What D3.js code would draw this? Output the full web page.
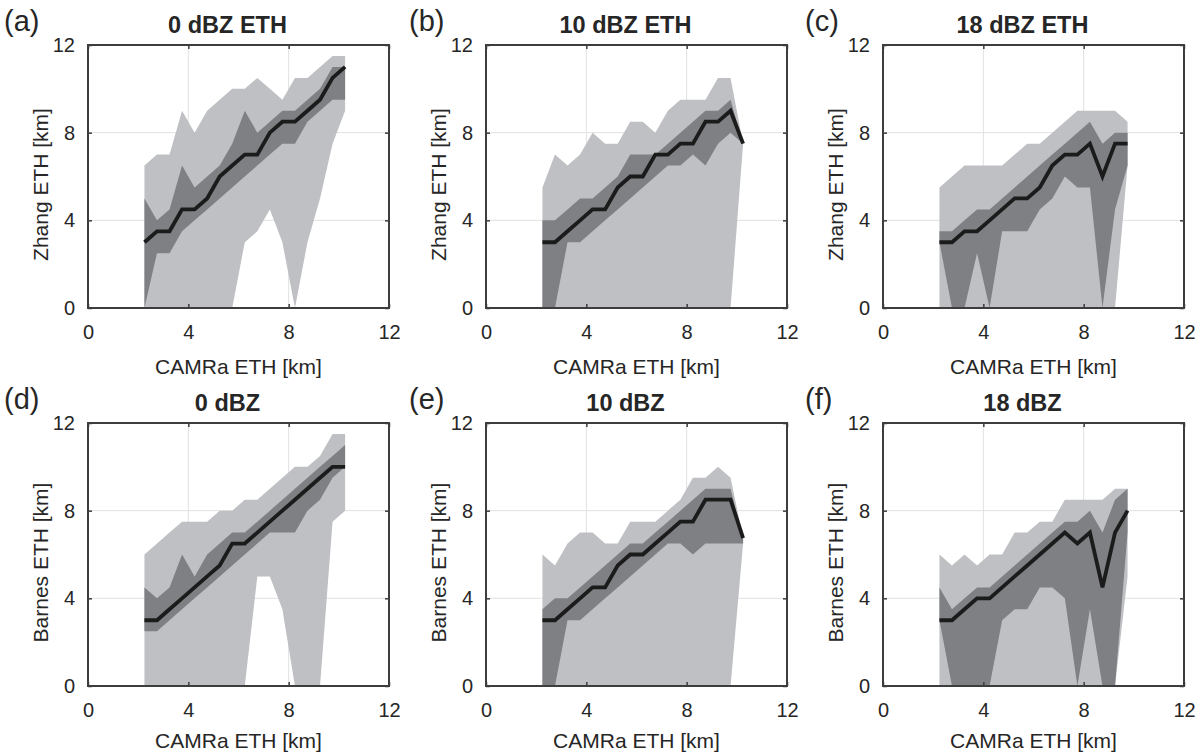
<!DOCTYPE html>
<html>
<head>
<meta charset="utf-8">
<script src="https://cdn.jsdelivr.net/npm/d3@7"></script>
<style>
  body { margin: 0; background: #fff; }
  text { font-family: "Liberation Sans", Arial, Helvetica, sans-serif; fill: #262626; }
</style>
</head>
<body>
<svg id="fig" width="1204" height="754"></svg>
<script>
// CAMRa ETH bin centres [km]
const xLong = [2.25, 2.75, 3.25, 3.75, 4.25, 4.75, 5.25, 5.75, 6.25, 6.75, 7.25, 7.75, 8.25, 8.75, 9.25, 9.75, 10.25];
const xShort = [2.25, 2.75, 3.25, 3.75, 4.25, 4.75, 5.25, 5.75, 6.25, 6.75, 7.25, 7.75, 8.25, 8.75, 9.25, 9.75];
const ticks = [0, 4, 8, 12];

// (a) Zhang, 0 dBZ
const aMed = [3, 3.5, 3.5, 4.5, 4.5, 5, 6, 6.5, 7, 7, 8, 8.5, 8.5, 9, 9.5, 10.5, 11];
const aQ75 = [5, 4, 4.5, 6.5, 5.5, 6, 6.5, 7.5, 9, 8, 8.5, 9, 9, 9.5, 10, 11, 11];
const aQ25 = [0, 2.5, 2.5, 3.5, 4, 4.5, 5, 5.5, 6, 6.5, 7, 7.5, 7.5, 8.5, 9, 9.5, 9.5];
const aMax = [6.5, 7, 7, 9, 8, 9, 9.5, 10, 10, 10.5, 10, 9.5, 10.5, 10.5, 11, 11.5, 11.5];
const aMin = [0, 0, 0, 0, 0, 0, 0, 0, 3, 3.5, 4.5, 3, 0, 3, 5, 7.5, 9];

// (b) Zhang, 10 dBZ
const bMed = [3, 3, 3.5, 4, 4.5, 4.5, 5.5, 6, 6, 7, 7, 7.5, 7.5, 8.5, 8.5, 9, 7.5];
const bQ75 = [4, 4, 4.5, 5, 5, 5.5, 6, 7, 7, 7, 7.5, 8, 8.5, 9, 9, 9.5, 7.5];
const bQ25 = [0, 0, 3, 3, 3.5, 4, 4.5, 5, 5.5, 6, 6.5, 6.5, 7, 6.5, 7.5, 8, 7.5];
const bMax = [5.5, 7, 6.5, 7, 8, 7.5, 7.5, 8.5, 8.5, 8, 9, 9.5, 9.5, 9.5, 10.5, 10.5, 7.5];
const bMin = [0, 0, 0, 0, 0, 0, 0, 0, 0, 0, 0, 0, 0, 0, 0, 0, 7.5];

// (c) Zhang, 18 dBZ
const cMed = [3, 3, 3.5, 3.5, 4, 4.5, 5, 5, 5.5, 6.5, 7, 7, 7.5, 6, 7.5, 7.5];
const cQ75 = [3.5, 3.5, 4, 4.5, 4.5, 5, 5.5, 6, 6.5, 7, 7.5, 8, 8.5, 7.5, 8, 8];
const cQ25 = [3, 0, 0, 2.5, 0, 3.5, 3.5, 3.5, 4.5, 5, 6, 5.5, 5.5, 0, 4.5, 6.5];
const cMax = [5.5, 6, 6.5, 6.5, 6.5, 6.5, 7, 7.5, 7.5, 8, 8.5, 9, 9, 9, 9, 8.5];
const cMin = [0, 0, 0, 0, 0, 0, 0, 0, 0, 0, 0, 0, 0, 0, 0, 6.5];

// (d) Barnes, 0 dBZ
const dMed = [3, 3, 3.5, 4, 4.5, 5, 5.5, 6.5, 6.5, 7, 7.5, 8, 8.5, 9, 9.5, 10, 10];
const dQ75 = [4.5, 4, 4.5, 6, 5, 6, 6.5, 7, 7, 7.5, 8, 8.5, 9, 9.5, 10, 10.5, 11];
const dQ25 = [2.5, 2.5, 3, 3.5, 4, 4.5, 5, 5.5, 6, 6.5, 7, 7, 7, 8, 8.5, 9.5, 10];
const dMax = [6, 6.5, 7, 7.5, 7.5, 7.5, 8, 8, 8.5, 8.5, 9, 9.5, 10, 10, 10.5, 11.5, 11.5];
const dMin = [0, 0, 0, 0, 0, 0, 0, 0, 0, 5, 5, 3.5, 0, 0, 0, 7.5, 8];

// (e) Barnes, 10 dBZ
const eMed = [3, 3, 3.5, 4, 4.5, 4.5, 5.5, 6, 6, 6.5, 7, 7.5, 7.5, 8.5, 8.5, 8.5, 6.75];
const eQ75 = [3.5, 4, 4, 4.5, 5, 5.5, 6, 6.5, 6.5, 7, 7.5, 8, 8.5, 9, 9, 9, 6.75];
const eQ25 = [0, 0, 3, 3, 3.5, 4, 4.5, 5, 5.5, 6, 6.5, 6.5, 6, 6.5, 6.5, 6.5, 6.5];
const eMax = [6, 5.5, 6.5, 7, 7, 6.5, 6.5, 7.5, 7.5, 7.5, 8, 8.5, 9.5, 9.5, 10, 9.5, 6.75];
const eMin = [0, 0, 0, 0, 0, 0, 0, 0, 0, 0, 0, 0, 0, 0, 0, 0, 6.5];

// (f) Barnes, 18 dBZ
const fMed = [3, 3, 3.5, 4, 4, 4.5, 5, 5.5, 6, 6.5, 7, 6.5, 7, 4.5, 7, 8];
const fQ75 = [4.5, 3.5, 4, 4.5, 4.5, 5, 5.5, 6, 6.5, 7, 7.5, 7.5, 8, 7, 8.5, 9];
const fQ25 = [3, 0, 0, 0, 0, 3, 3.5, 3.5, 4.5, 4.5, 4, 0, 3.5, 0, 0, 7];
const fMax = [6, 5.5, 6, 5.5, 6, 6, 7, 7, 7.5, 7.5, 8.5, 8.5, 8.5, 8.5, 9, 9];
const fMin = [0, 0, 0, 0, 0, 0, 0, 0, 0, 0, 0, 0, 0, 0, 0, 5];

const panels = [
  { tag: '(a)', title: '0 dBZ ETH',  ylab: 'Zhang ETH [km]',  col: 0, row: 0, x: xLong,  med: aMed, q25: aQ25, q75: aQ75, lo: aMin, hi: aMax },
  { tag: '(b)', title: '10 dBZ ETH', ylab: 'Zhang ETH [km]',  col: 1, row: 0, x: xLong,  med: bMed, q25: bQ25, q75: bQ75, lo: bMin, hi: bMax },
  { tag: '(c)', title: '18 dBZ ETH', ylab: 'Zhang ETH [km]',  col: 2, row: 0, x: xShort, med: cMed, q25: cQ25, q75: cQ75, lo: cMin, hi: cMax },
  { tag: '(d)', title: '0 dBZ',      ylab: 'Barnes ETH [km]', col: 0, row: 1, x: xLong,  med: dMed, q25: dQ25, q75: dQ75, lo: dMin, hi: dMax },
  { tag: '(e)', title: '10 dBZ',     ylab: 'Barnes ETH [km]', col: 1, row: 1, x: xLong,  med: eMed, q25: eQ25, q75: eQ75, lo: eMin, hi: eMax },
  { tag: '(f)', title: '18 dBZ',     ylab: 'Barnes ETH [km]', col: 2, row: 1, x: xShort, med: fMed, q25: fQ25, q75: fQ75, lo: fMin, hi: fMax },
];

// layout (pixels)
const colLeft = [88, 486, 883];
const colTag = [4, 409, 805];
const rowTop = [45, 423];
const xlabGap = [66, 62];
const W = 301, H = 263;

const lightFill = '#bfc0c4';
const darkFill = '#7f8084';
const ink = '#3d3d3d';

const svg = d3.select('#fig');

panels.forEach((p, i) => {
  const left = colLeft[p.col], top = rowTop[p.row];
  const x = d3.scaleLinear().domain([0, 12]).range([left, left + W]);
  const y = d3.scaleLinear().domain([0, 12]).range([top + H, top]);
  const g = svg.append('g');

  const clipId = 'clip' + i;
  svg.append('clipPath').attr('id', clipId)
    .append('rect').attr('x', left).attr('y', top).attr('width', W).attr('height', H);

  // grid
  g.append('g').selectAll('line').data([4, 8]).join('line')
    .attr('x1', d => x(d)).attr('x2', d => x(d)).attr('y1', top).attr('y2', top + H)
    .attr('stroke', '#e1e1e1').attr('stroke-width', 1);
  g.append('g').selectAll('line').data([4, 8]).join('line')
    .attr('y1', d => y(d)).attr('y2', d => y(d)).attr('x1', left).attr('x2', left + W)
    .attr('stroke', '#e1e1e1').attr('stroke-width', 1);

  const rows = p.x.map((v, k) => ({ x: v, med: p.med[k], q25: p.q25[k], q75: p.q75[k], lo: p.lo[k], hi: p.hi[k] }));
  const plot = g.append('g').attr('clip-path', `url(#${clipId})`);

  plot.append('path').datum(rows)
    .attr('fill', lightFill)
    .attr('d', d3.area().x(d => x(d.x)).y0(d => y(d.lo)).y1(d => y(d.hi)));
  plot.append('path').datum(rows)
    .attr('fill', darkFill)
    .attr('d', d3.area().x(d => x(d.x)).y0(d => y(d.q25)).y1(d => y(d.q75)));
  plot.append('path').datum(rows)
    .attr('fill', 'none').attr('stroke', '#1b1b1b').attr('stroke-width', 3.8)
    .attr('stroke-linejoin', 'miter')
    .attr('d', d3.line().x(d => x(d.x)).y(d => y(d.med)));

  // axes with inward ticks on all sides
  const bottomAx = g.append('g').attr('transform', `translate(0,${top + H})`)
    .call(d3.axisBottom(x).tickValues(ticks).tickSize(-4).tickPadding(17));
  const leftAx = g.append('g').attr('transform', `translate(${left},0)`)
    .call(d3.axisLeft(y).tickValues(ticks).tickSize(-4).tickPadding(13));
  const topAx = g.append('g').attr('transform', `translate(0,${top})`)
    .call(d3.axisTop(x).tickValues(ticks).tickSize(-4).tickFormat(''));
  const rightAx = g.append('g').attr('transform', `translate(${left + W},0)`)
    .call(d3.axisRight(y).tickValues(ticks).tickSize(-4).tickFormat(''));

  [bottomAx, leftAx, topAx, rightAx].forEach(ax => {
    ax.select('.domain').remove();
    ax.selectAll('line').attr('stroke', ink).attr('stroke-width', 1.5);
    ax.selectAll('text').attr('font-size', 20).attr('fill', '#262626')
      .attr('font-family', '"Liberation Sans", Arial, sans-serif');
  });

  g.append('rect').attr('x', left).attr('y', top).attr('width', W).attr('height', H)
    .attr('fill', 'none').attr('stroke', ink).attr('stroke-width', 2);

  // labels
  g.append('text')
    .attr('x', left + W / 2 - 11).attr('y', top - 12)
    .attr('text-anchor', 'middle').attr('font-size', 23.5).attr('font-weight', 'bold')
    .text(p.title);
  g.append('text')
    .attr('x', left + W / 2).attr('y', top + H + xlabGap[p.row])
    .attr('text-anchor', 'middle').attr('font-size', 21)
    .text('CAMRa ETH [km]');
  g.append('text')
    .attr('transform', `translate(${left - 40},${top + H / 2 + 8}) rotate(-90)`)
    .attr('text-anchor', 'middle').attr('font-size', 21)
    .text(p.ylab);
  g.append('text')
    .attr('x', colTag[p.col]).attr('y', top - 14)
    .attr('font-size', 29)
    .text(p.tag);
});
</script>
</body>
</html>
